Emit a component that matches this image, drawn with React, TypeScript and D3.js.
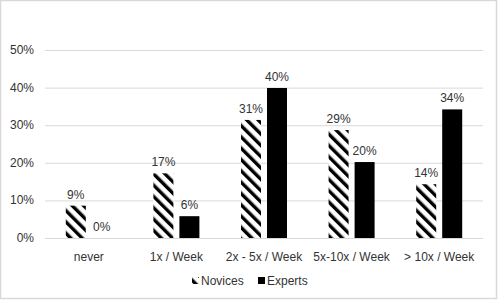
import React from "react";
import * as d3 from "d3";

const categories = ["never", "1x / Week", "2x - 5x / Week", "5x-10x / Week", "> 10x / Week"];
const seriesNames = ["Novices", "Experts"];
const novices = [8.6, 17.2, 31.4, 28.7, 14.3];
const experts = [0, 5.8, 39.9, 20.2, 34.2];
const yTicks = [0, 10, 20, 30, 40, 50];

const W = 498;
const H = 300;
const FONT = "'Liberation Sans', Arial, sans-serif";

export default function App() {
  const x0 = d3.scaleBand<string>().domain(categories).range([45, 483]);
  const y = d3.scaleLinear().domain([0, 50]).range([238, 50]);
  const barW = 20;
  const gap = 6;
  const series = [novices, experts];

  return (
    <svg
      width={W}
      height={H}
      style={{ position: "absolute", left: 0, top: 0, background: "#fff" }}
      fontFamily={FONT}
    >
      <defs>
        <pattern
          id="hatch"
          patternUnits="userSpaceOnUse"
          width={8}
          height={8}
          patternTransform="rotate(-45)"
        >
          <rect width={8} height={8} fill="#fff" />
          <rect x={0} y={0} width={3.4} height={8} fill="#000" />
        </pattern>
      </defs>
      <rect x={0.5} y={0.5} width={W - 2} height={H - 2} fill="#fff" stroke="#d9d9d9" strokeWidth={1.5} />
      {yTicks.map((t) => (
        <g key={t}>
          <line x1={45} x2={483} y1={y(t) + 0.5} y2={y(t) + 0.5} stroke="#d9d9d9" strokeWidth={1} />
          <text x={34} y={y(t) + 4} textAnchor="end" fontSize={12} fill="#333">
            {t}%
          </text>
        </g>
      ))}
      {categories.map((c, i) => {
        const cx = (x0(c) as number) + x0.bandwidth() / 2;
        return (
          <g key={c}>
            {series.map((vals, s) => {
              const v = vals[i];
              const bx = s === 0 ? cx - gap / 2 - barW : cx + gap / 2;
              const top = y(v);
              return (
                <g key={s}>
                  <rect
                    x={bx}
                    y={top}
                    width={barW}
                    height={y(0) - top}
                    fill={s === 0 ? "url(#hatch)" : "#000"}
                  />
                  <text x={bx + barW / 2} y={top - 7} textAnchor="middle" fontSize={12} fill="#333">
                    {Math.round(v)}%
                  </text>
                </g>
              );
            })}
            <text x={cx} y={261} textAnchor="middle" fontSize={12} fill="#333">
              {c}
            </text>
          </g>
        );
      })}
      <g>
        <rect x={192} y={277} width={7} height={7} fill="url(#hatch)" />
        <text x={201} y={285} fontSize={12} fill="#333">{seriesNames[0]}</text>
        <rect x={258} y={277} width={7} height={7} fill="#000" />
        <text x={267} y={285} fontSize={12} fill="#333">{seriesNames[1]}</text>
      </g>
    </svg>
  );
}
